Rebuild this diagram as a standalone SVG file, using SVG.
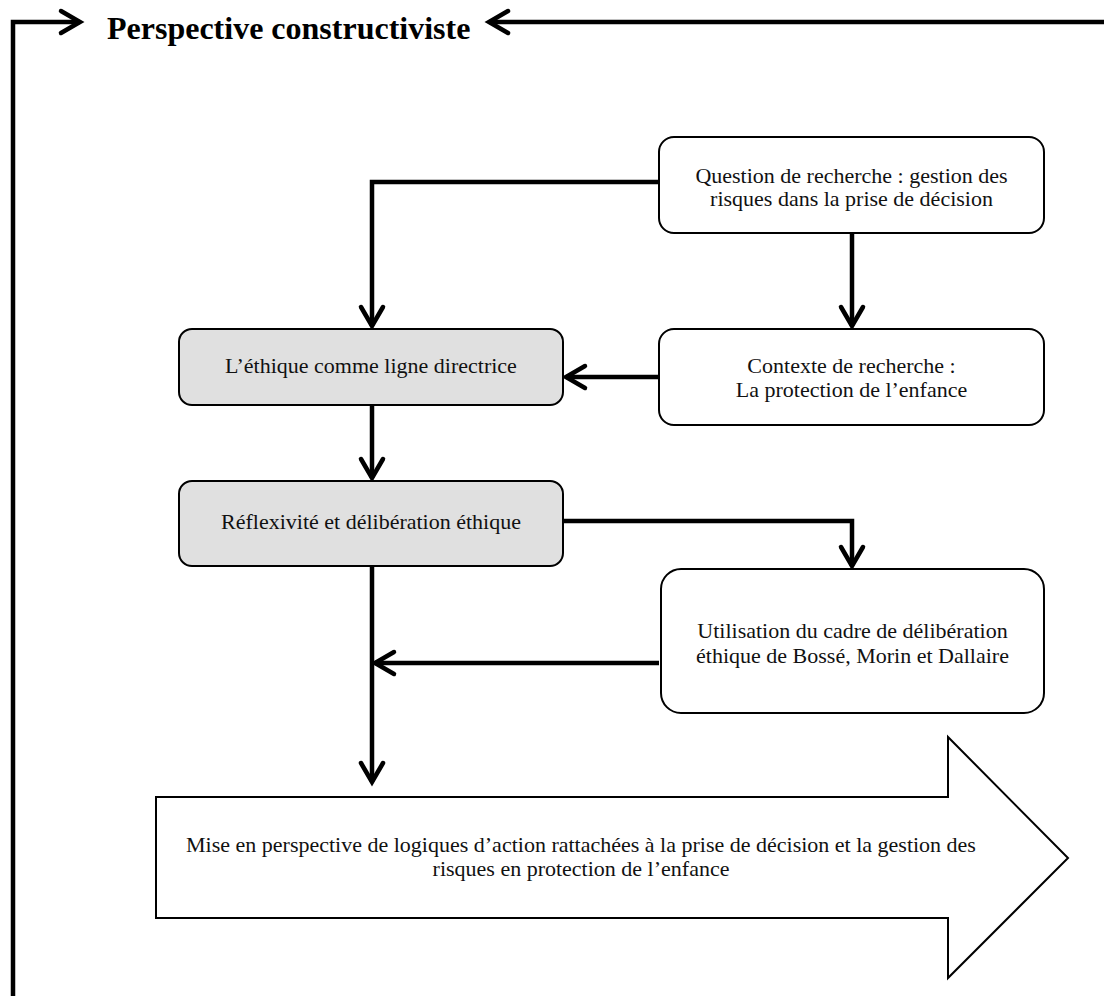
<svg xmlns="http://www.w3.org/2000/svg" width="1104" height="996" viewBox="0 0 1104 996">
  <defs>
    <style>
      .box { fill: #ffffff; stroke: #000000; stroke-width: 2; }
      .shade { fill: #e0e0e0; }
      .lbl { font-family: "Liberation Serif", "Times New Roman", serif; font-size: 22px; fill: #111111; text-anchor: middle; }
      .title { font-family: "Liberation Serif", "Times New Roman", serif; font-size: 32px; font-weight: bold; fill: #000000; }
      .wire { fill: none; stroke: #000000; stroke-width: 4.5; stroke-linejoin: miter; }
      .arrow { marker-end: url(#chevron); }
    </style>
    <!-- open chevron arrowhead, tip sits on the path end -->
    <marker id="chevron" markerUnits="userSpaceOnUse" markerWidth="30" markerHeight="30" viewBox="-24 -15 30 30" refX="0" refY="0" orient="auto" overflow="visible">
      <path d="M-19,-11 L0,0 L-19,11" fill="none" stroke="#000000" stroke-width="4.5" stroke-linecap="round" stroke-linejoin="miter"/>
    </marker>
  </defs>

  <!-- frame title -->
  <text class="title" x="107" y="39">Perspective constructiviste</text>

  <!-- connectors -->
  <g id="connectors">
    <path class="wire arrow" d="M13,996 L13,22 L80,22"/>
    <path class="wire arrow" d="M1104,22 L489,22"/>
    <path class="wire arrow" d="M659,182 L372,182 L372,326"/>
    <path class="wire arrow" d="M852,233 L852,326"/>
    <path class="wire arrow" d="M659,377 L566,377"/>
    <path class="wire arrow" d="M372,405 L372,478"/>
    <path class="wire arrow" d="M563,521 L852,521 L852,566"/>
    <path class="wire arrow" d="M659,663 L375,663"/>
    <path class="wire arrow" d="M372,566 L372,782"/>
  </g>

  <!-- research question -->
  <g id="question">
    <rect class="box" x="659" y="137" width="385" height="96" rx="15" ry="15"/>
    <text class="lbl" x="851.5" y="183">Question de recherche : gestion des</text>
    <text class="lbl" x="851.5" y="206">risques dans la prise de décision</text>
  </g>

  <!-- research context -->
  <g id="contexte">
    <rect class="box" x="659" y="329" width="385" height="96" rx="15" ry="15"/>
    <text class="lbl" x="851.5" y="373">Contexte de recherche :</text>
    <text class="lbl" x="851.5" y="397">La protection de l’enfance</text>
  </g>

  <!-- ethics as guideline -->
  <g id="ethique">
    <rect class="box shade" x="179" y="329" width="384" height="76" rx="13" ry="13"/>
    <text class="lbl" x="371" y="373">L’éthique comme ligne directrice</text>
  </g>

  <!-- reflexivity -->
  <g id="reflexivite">
    <rect class="box shade" x="179" y="481" width="384" height="85" rx="13" ry="13"/>
    <text class="lbl" x="371" y="529">Réflexivité et délibération éthique</text>
  </g>

  <!-- deliberation framework -->
  <g id="cadre">
    <rect class="box" x="661" y="569" width="383" height="144" rx="20" ry="20"/>
    <text class="lbl" x="852.5" y="638">Utilisation du cadre de délibération</text>
    <text class="lbl" x="852.5" y="663">éthique de Bossé, Morin et Dallaire</text>
  </g>

  <!-- outcome block arrow -->
  <g id="mise-en-perspective">
    <polygon class="box" points="156,797 948,797 948,737 1068,858 948,978 948,918 156,918"/>
    <text class="lbl" x="581" y="852">Mise en perspective de logiques d’action rattachées à la prise de décision et la gestion des</text>
    <text class="lbl" x="581" y="876">risques en protection de l’enfance</text>
  </g>
</svg>
